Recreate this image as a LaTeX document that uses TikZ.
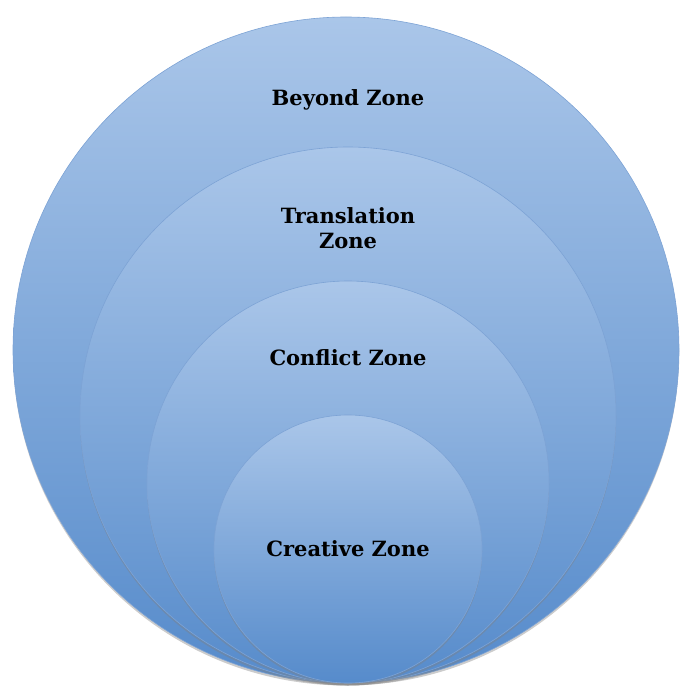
\documentclass[tikz,border=0pt]{standalone}
\usepackage{fontspec}
\setmainfont{DejaVu Serif}
\usetikzlibrary{shadows}
\definecolor{zonetop}{RGB}{170,198,233}
\definecolor{zonebot}{RGB}{86,139,203}
\definecolor{zoneedge}{RGB}{125,163,213}

\begin{document}
\begin{tikzpicture}[x=1pt, y=-1pt,
        zone/.style={circle, draw=zoneedge, line width=0.6pt, inner sep=0pt,
            top color=zonetop, bottom color=zonebot,
            drop shadow={shadow xshift=0pt, shadow yshift=-2.5pt, opacity=0.4}},
        zonename/.style={font=\bfseries\fontsize{21}{25}\selectfont, align=center}]
        \useasboundingbox (0, 0) rectangle (680, 687);
		\node[zone, minimum size=666pt] at (346, 350) (z_beyond) {};
        \node[zone, minimum size=536pt] at (348, 415) (z_translation) {};
        \node[zone, minimum size=402pt] at (348, 482) (z_conflict) {};
        \node[zone, minimum size=268pt] at (348, 549) (z_creative) {};

        \node[zonename] at (348, 100) (t_beyond) {Beyond Zone};
        \node[zonename] at (348, 228) (t_translation) {Translation\\Zone};
        \node[zonename] at (348, 358) (t_conflict) {Conflict Zone};
        \node[zonename] at (348, 549) (t_creative) {Creative Zone};
	\end{tikzpicture}
\end{document}
